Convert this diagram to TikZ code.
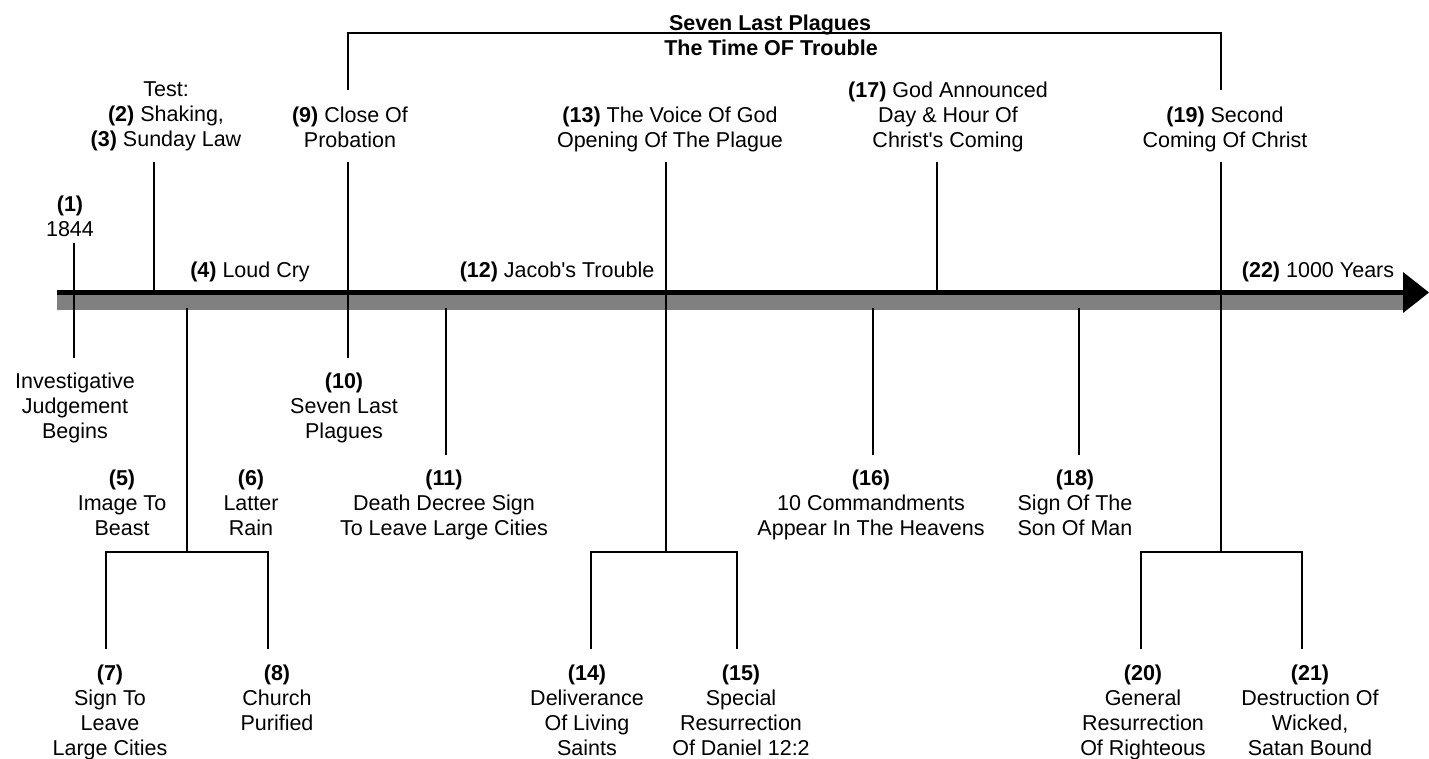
\documentclass[tikz,border=0pt]{standalone}
\usepackage{fontspec}
\setmainfont{Liberation Sans}[Ligatures=TeXOff]
\usepackage{tikz}
\tikzset{tick/.style = {line width = 2, line cap = butt}}
\tikzset{lbl/.style = {align = center, inner sep = 0, anchor = north,
                       font = \fontsize{21.5}{25}\selectfont}}
\tikzset{ttl/.style = {inner sep = 0, anchor = base,
                       font = \fontsize{21.5}{25}\selectfont\bfseries}}
\definecolor{bargray}{rgb}{0.5, 0.5, 0.5}
\newcommand{\evnum}[1]{\textbf{(#1)}}

\begin{document}
\begin{tikzpicture}[x=1pt, y=-1pt]
    \useasboundingbox (0, 0) rectangle (1429, 759);

    % time line
    \coordinate (tlStart) at (57, 292.5);
    \coordinate (tlEnd) at (1403, 292.5);
    \coordinate (tlTip) at (1429, 292.5);
    \draw [line width = 15, bargray] (57, 302.5) -- (1403, 302.5);
    \draw [line width = 5] (tlStart) -- (tlEnd);
    \fill (1403, 272) -- (tlTip) -- (1403, 313) -- cycle;

    % title over the bracket
    \node [ttl] (ttlA) at (770, 31) {Seven Last Plagues};
    \node [ttl] (ttlB) at (771, 56) {The Time OF Trouble};

    % labels above the line
    \node [lbl] (lbl1) at (70, 196) {\evnum{1}\\1844};
    \node [lbl] (lbl2) at (166, 82) {Test:\\\evnum{2} Shaking,\\\evnum{3} Sunday Law};
    \node [lbl] (lbl4) at (250, 262) {\evnum{4} Loud Cry};
    \node [lbl] (lbl9) at (350, 107) {\evnum{9} Close Of\\Probation};
    \node [lbl] (lbl12) at (557, 262) {\evnum{12} Jacob's Trouble};
    \node [lbl] (lbl13) at (670, 107) {\evnum{13} The Voice Of God\\Opening Of The Plague};
    \node [lbl] (lbl17) at (948, 82) {\evnum{17} God Announced\\Day \& Hour Of\\Christ's Coming};
    \node [lbl] (lbl19) at (1225, 107) {\evnum{19} Second\\Coming Of Christ};
    \node [lbl] (lbl22) at (1318, 262) {\evnum{22} 1000 Years};

    % labels below the line
    \node [lbl] (lblIJ) at (75, 373) {Investigative\\Judgement\\Begins};
    \node [lbl] (lbl10) at (344, 373) {\evnum{10}\\Seven Last\\Plagues};
    \node [lbl] (lbl5) at (122, 470) {\evnum{5}\\Image To\\Beast};
    \node [lbl] (lbl6) at (251, 470) {\evnum{6}\\Latter\\Rain};
    \node [lbl] (lbl11) at (444, 470) {\evnum{11}\\Death Decree Sign\\To Leave Large Cities};
    \node [lbl] (lbl16) at (871, 470) {\evnum{16}\\10 Commandments\\Appear In The Heavens};
    \node [lbl] (lbl18) at (1075, 470) {\evnum{18}\\Sign Of The\\Son Of Man};
    \node [lbl] (lbl7) at (110, 665) {\evnum{7}\\Sign To\\Leave\\Large Cities};
    \node [lbl] (lbl8) at (277, 665) {\evnum{8}\\Church\\Purified};
    \node [lbl] (lbl14) at (587, 665) {\evnum{14}\\Deliverance\\Of Living\\Saints};
    \node [lbl] (lbl15) at (741, 665) {\evnum{15}\\Special\\Resurrection\\Of Daniel 12:2};
    \node [lbl] (lbl20) at (1143, 665) {\evnum{20}\\General\\Resurrection\\Of Righteous};
    \node [lbl] (lbl21) at (1310, 665) {\evnum{21}\\Destruction Of\\Wicked,\\Satan Bound};

    % tick ends
    \coordinate (a1) at (74, 243);
    \coordinate (b1) at (74, 358);
    \coordinate (a2) at (154, 162);
    \coordinate (b2) at (154, 292);
    \coordinate (a9) at (348, 162);
    \coordinate (b9) at (348, 358);
    \coordinate (c9) at (348, 90);
    \coordinate (a5) at (187, 308);
    \coordinate (j5) at (187, 552);
    \coordinate (e7) at (106, 649);
    \coordinate (e8) at (268, 649);
    \coordinate (a11) at (446, 308);
    \coordinate (b11) at (446, 455);
    \coordinate (a13) at (666, 162);
    \coordinate (j13) at (666, 552);
    \coordinate (e14) at (591, 649);
    \coordinate (e15) at (737, 649);
    \coordinate (a16) at (873, 308);
    \coordinate (b16) at (873, 455);
    \coordinate (a17) at (937, 162);
    \coordinate (b17) at (937, 292);
    \coordinate (a18) at (1079, 308);
    \coordinate (b18) at (1079, 455);
    \coordinate (a19) at (1221, 162);
    \coordinate (j19) at (1221, 552);
    \coordinate (c19) at (1221, 90);
    \coordinate (e20) at (1141, 649);
    \coordinate (e21) at (1302, 649);
    \coordinate (brTop) at (770, 33);

    \draw [tick] (a1) -- (b1);
    \draw [tick] (a2) -- (b2);
    \draw [tick] (a9) -- (b9);
    \draw [tick] (a11) -- (b11);
    \draw [tick] (a16) -- (b16);
    \draw [tick] (a17) -- (b17);
    \draw [tick] (a18) -- (b18);

    \draw [tick] (a5) -- (j5);
    \draw [tick] (e7) -- (e7 |- j5) -- (e8 |- j5) -- (e8);
    \draw [tick] (a13) -- (j13);
    \draw [tick] (e14) -- (e14 |- j13) -- (e15 |- j13) -- (e15);
    \draw [tick] (a19) -- (j19);
    \draw [tick] (e20) -- (e20 |- j19) -- (e21 |- j19) -- (e21);

    \draw [tick] (c9) -- (c9 |- brTop) -- (c19 |- brTop) -- (c19);
  \end{tikzpicture}
\end{document}
